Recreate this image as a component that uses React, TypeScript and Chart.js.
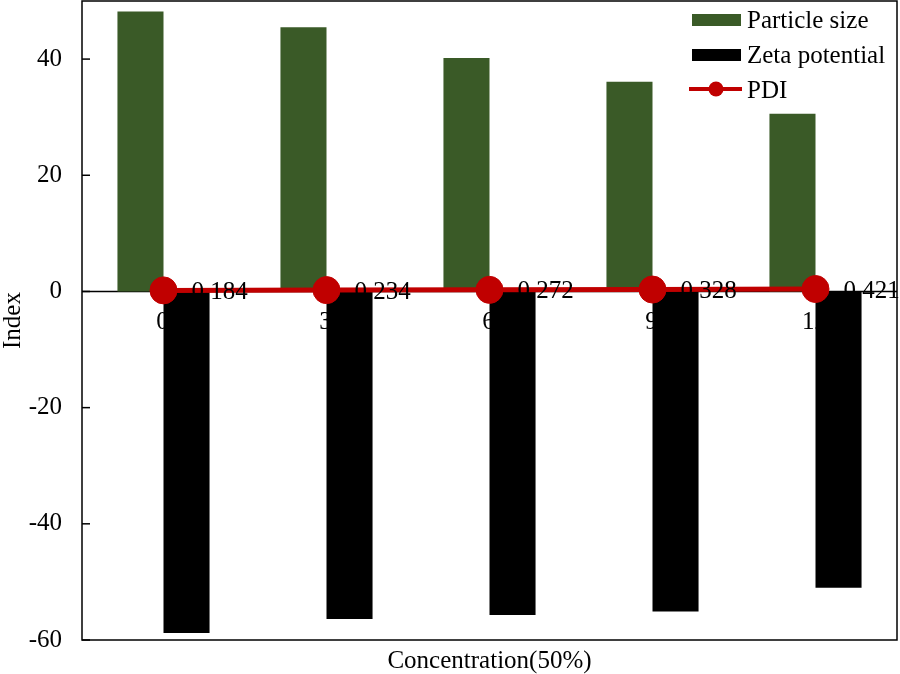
import React, { useEffect, useRef } from "react";
import { Chart, registerables } from "chart.js";

Chart.register(...registerables);

const categories = ["0", "3", "6", "9", "12"];
const particleSize = [48.2, 45.5, 40.2, 36.1, 30.6];
const zetaPotential = [-58.8, -56.4, -55.7, -55.1, -51.0];
const pdi = [0.184, 0.234, 0.272, 0.328, 0.421];
const pdiLabels = ["0.184", "0.234", "0.272", "0.328", "0.421"];
const yTicks = [-60, -40, -20, 0, 20, 40];

const FONT = "'Liberation Serif', 'Times New Roman', serif";
const GREEN = "#3A5A27";
const RED = "#C00000";
const FS = 25;

const customPlugin = {
  id: "custom",
  beforeDatasetsDraw(chart: any) {
    const { ctx, chartArea } = chart;
    const x = chart.scales.x;
    const y = chart.scales.y;
    const y0 = y.getPixelForValue(0);
    ctx.save();
    ctx.strokeStyle = "#000";
    ctx.lineWidth = 1.5;
    ctx.beginPath();
    ctx.moveTo(chartArea.left, y0);
    ctx.lineTo(chartArea.right, y0);
    ctx.stroke();
    ctx.fillStyle = "#000";
    ctx.font = `${FS}px ${FONT}`;
    ctx.textAlign = "center";
    ctx.textBaseline = "middle";
    categories.forEach((c, i) => {
      ctx.fillText(c, x.getPixelForValue(i) - 1, y0 + 31);
    });
    ctx.restore();
  },
  afterDatasetsDraw(chart: any) {
    const { ctx, chartArea } = chart;
    const y = chart.scales.y;
    ctx.save();
    // frame
    ctx.strokeStyle = "#000";
    ctx.lineWidth = 1.5;
    ctx.strokeRect(chartArea.left, chartArea.top, chartArea.right - chartArea.left, chartArea.bottom - chartArea.top);
    // inward ticks
    yTicks.forEach((v) => {
      const py = y.getPixelForValue(v);
      ctx.beginPath();
      ctx.moveTo(chartArea.left, py);
      ctx.lineTo(chartArea.left + 8, py);
      ctx.stroke();
    });
    // PDI labels
    const meta = chart.getDatasetMeta(2);
    ctx.fillStyle = "#000";
    ctx.font = `${FS}px ${FONT}`;
    ctx.textAlign = "left";
    ctx.textBaseline = "middle";
    meta.data.forEach((pt: any, i: number) => {
      ctx.fillText(pdiLabels[i], pt.x + 28, pt.y + 2);
    });
    // axis titles
    ctx.textAlign = "center";
    ctx.fillText("Concentration(50%)", (chartArea.left + chartArea.right) / 2, 661);
    ctx.save();
    ctx.translate(13, (chartArea.top + chartArea.bottom) / 2);
    ctx.rotate(-Math.PI / 2);
    ctx.font = `${FS}px ${FONT}`;
    ctx.fillText("Index", 0, 0);
    ctx.restore();
    // legend
    ctx.font = `${FS}px ${FONT}`;
    ctx.textAlign = "left";
    ctx.fillStyle = GREEN;
    ctx.fillRect(692, 14, 49, 12);
    ctx.fillStyle = "#000";
    ctx.fillText("Particle size", 747, 21);
    ctx.fillRect(692, 49, 49, 12);
    ctx.fillText("Zeta potential", 747, 56);
    ctx.strokeStyle = RED;
    ctx.lineWidth = 4;
    ctx.beginPath();
    ctx.moveTo(689, 89);
    ctx.lineTo(742, 89);
    ctx.stroke();
    ctx.fillStyle = RED;
    ctx.beginPath();
    ctx.arc(716, 89, 7.5, 0, Math.PI * 2);
    ctx.fill();
    ctx.fillStyle = "#000";
    ctx.fillText("PDI", 747, 91);
    ctx.restore();
  },
};

export default function App() {
  const ref = useRef<HTMLCanvasElement>(null);
  useEffect(() => {
    if (!ref.current) return;
    const chart = new Chart(ref.current, {
      type: "bar",
      data: {
        labels: categories,
        datasets: [
          {
            type: "bar",
            label: "Particle size",
            data: particleSize,
            backgroundColor: GREEN,
            categoryPercentage: 0.565,
            barPercentage: 1,
            order: 2,
          },
          {
            type: "bar",
            label: "Zeta potential",
            data: zetaPotential,
            backgroundColor: "#000",
            categoryPercentage: 0.565,
            barPercentage: 1,
            order: 2,
          },
          {
            type: "line",
            label: "PDI",
            data: pdi,
            borderColor: RED,
            backgroundColor: RED,
            borderWidth: 5,
            pointRadius: 13.5,
            pointBackgroundColor: RED,
            pointBorderColor: RED,
            pointBorderWidth: 1,
            order: 0,
          } as any,
        ],
      },
      options: {
        responsive: false,
        animation: false,
        layout: { autoPadding: false, padding: { top: 1, right: 3, bottom: 34, left: 0 } },
        plugins: { legend: { display: false }, tooltip: { enabled: false } },
        scales: {
          x: { display: false, offset: true },
          y: {
            min: -60,
            max: 50,
            afterBuildTicks: (s: any) => {
              s.ticks = yTicks.map((v) => ({ value: v }));
            },
            afterFit: (s: any) => {
              s.width = 82;
              s.paddingTop = 0;
              s.paddingBottom = 0;
            },
            grid: { display: false, drawTicks: false },
            border: { display: false },
            ticks: {
              padding: 20,
              color: "#000",
              font: { family: FONT, size: FS },
            },
          },
        },
      },
      plugins: [customPlugin],
    });
    return () => chart.destroy();
  }, []);
  return (
    <div style={{ position: "absolute", left: 0, top: 0, width: 900, height: 674, background: "#fff" }}>
      <canvas ref={ref} width={900} height={674} />
    </div>
  );
}
